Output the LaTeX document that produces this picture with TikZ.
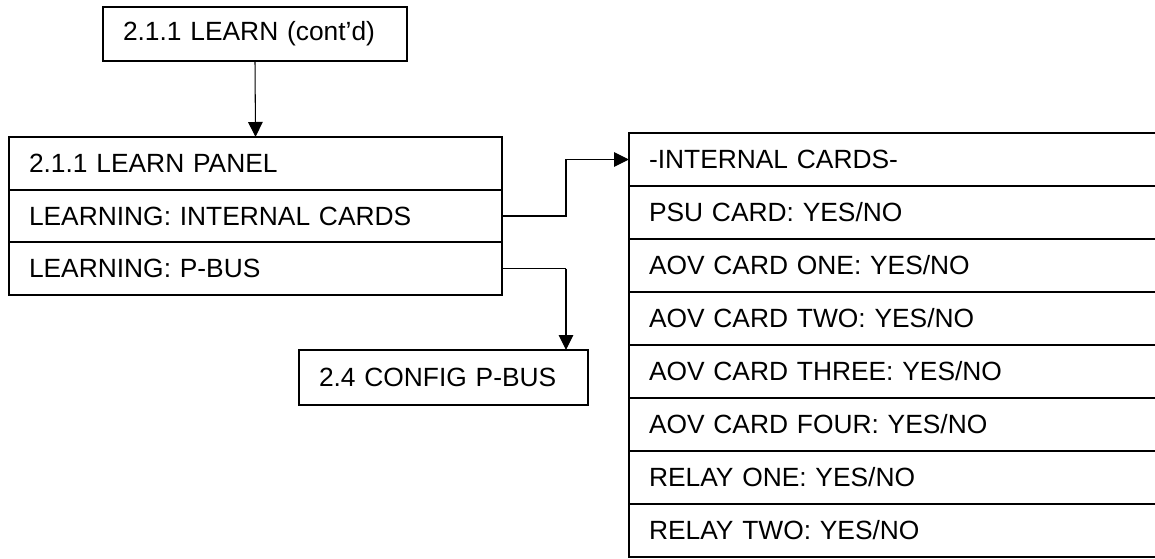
\documentclass[tikz,border=0pt]{standalone}
\usepackage{fontspec}
\setmainfont{Liberation Sans}
\usetikzlibrary{arrows.meta,positioning}

\begin{document}
\begin{tikzpicture}[
  block/.style={draw, line width=1.1pt, outer sep=0pt, inner xsep=0.4cm, inner ysep=0pt, align=left, font=\fontsize{15}{17}\selectfont},
  title/.style={block, text width=5.28cm, minimum height=1.08cm},
  panelrow/.style={block, text width=9.06cm, minimum height=1.053cm},
  cardrow/.style={block, text width=10.0cm, minimum height=1.06cm},
  arrow/.style={-{Triangle[length=0.3cm, width=0.29cm]}, line width=0.6pt}
]
\useasboundingbox (0,0) rectangle (23.1,-11.17);
\clip (0,0) rectangle (23.1,-11.17);
\node[title, anchor=north west] (learn) at (2.06,-0.14) {2.1.1 LEARN (cont’d)};
% learn panel
\node[panelrow, anchor=north west] (lpanel) at (0.18,-2.74) {2.1.1 LEARN PANEL};
\node[panelrow, below=0pt of lpanel] (lint) {LEARNING: INTERNAL CARDS};
\node[panelrow, below=0pt of lint] (lpbus) {LEARNING: P-BUS};
\node[title, text width=4.98cm, minimum height=1.1cm, anchor=north west] (config) at (5.98,-7.0) {2.4 CONFIG P-BUS};
% internal cards list
\node[cardrow, anchor=north west] (icards) at (12.58,-2.66) {-INTERNAL CARDS-};
\node[cardrow, below=0pt of icards] (psu) {PSU CARD: YES/NO};
\node[cardrow, below=0pt of psu] (aovone) {AOV CARD ONE: YES/NO};
\node[cardrow, below=0pt of aovone] (aovtwo) {AOV CARD TWO: YES/NO};
\node[cardrow, below=0pt of aovtwo] (aovthree) {AOV CARD THREE: YES/NO};
\node[cardrow, below=0pt of aovthree] (aovfour) {AOV CARD FOUR: YES/NO};
\node[cardrow, below=0pt of aovfour] (relayone) {RELAY ONE: YES/NO};
\node[cardrow, below=0pt of relayone] (relaytwo) {RELAY TWO: YES/NO};
\draw[arrow] (learn.south) -- (lpanel.north);
\draw[arrow] (lint.east) -- ++(1.28,0) |- (icards.west);
\draw (lpbus.east) -- ++(1.28,0) coordinate (bend);
\draw[arrow] (bend) -- (bend |- config.north);
\end{tikzpicture}
\end{document}
